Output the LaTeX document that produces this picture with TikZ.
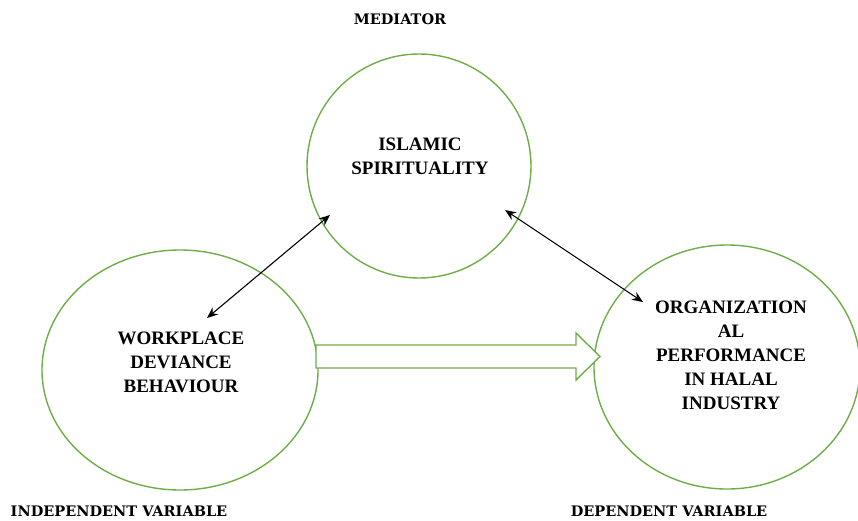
\documentclass[tikz,border=0pt]{standalone}
\usepackage{fontspec}
\setmainfont{Liberation Serif}
\newfontfamily\capfont{DejaVu Serif}
\usetikzlibrary{shapes.geometric,arrows.meta}
\definecolor{leafgreen}{RGB}{112,173,71}

\begin{document}
\begin{tikzpicture}[x=1pt,y=-1pt]
\tikzset{circ/.style={draw=leafgreen,line width=1.4pt,ellipse,inner sep=0pt},
    txt/.style={align=center,font=\fontsize{19}{24}\selectfont\bfseries},
    heading/.style={font=\capfont\fontsize{14.5}{17}\selectfont\bfseries},
    dbl/.style={{Stealth[length=11pt,width=9pt]}-{Stealth[length=11pt,width=9pt]},line width=1.1pt}}
\useasboundingbox (0,0) rectangle (858,520);
% the three variables
\node[circ,minimum width=224pt,minimum height=224pt] (med) at (419,166) {};
\node[circ,minimum width=276pt,minimum height=240pt] (indep) at (180,370) {};
\node[circ,minimum width=266pt,minimum height=244pt] (dep) at (727,367) {};
\node[txt] (medtxt) at (420,156) {ISLAMIC\\SPIRITUALITY};
\node[txt] (indeptxt) at (181,362) {WORKPLACE\\DEVIANCE\\BEHAVIOUR};
\node[txt] (deptxt) at (731,355) {ORGANIZATION\\AL\\PERFORMANCE\\IN HALAL\\INDUSTRY};
% headings
\node[heading] (medlbl) at (400,19) {MEDIATOR};
\node[heading] (indeplbl) at (119,511) {INDEPENDENT VARIABLE};
\node[heading] (deplbl) at (669,511) {DEPENDENT VARIABLE};
% links
\coordinate (a1) at (207,318);
\coordinate (a2) at (330,215);
\coordinate (b1) at (505,210);
\coordinate (b2) at (643,302);
\draw[dbl] (a1) -- (a2);
\draw[dbl] (b1) -- (b2);
\draw[draw=leafgreen,line width=1.4pt,fill=white]
  (316,345) -- (576,345) -- (576,333) -- (600,356.5) -- (576,380) -- (576,368) -- (316,368) -- cycle;
\end{tikzpicture}
\end{document}
